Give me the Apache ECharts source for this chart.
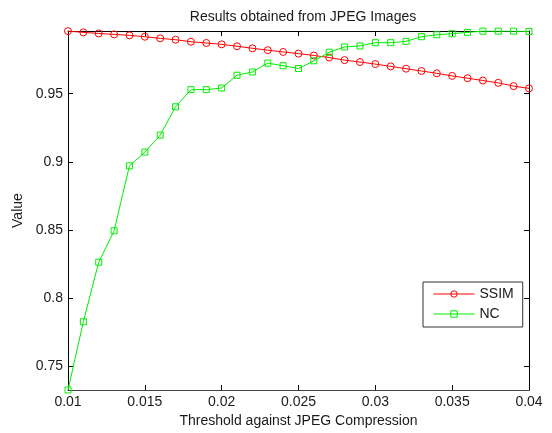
<!DOCTYPE html>
<html>
<head>
<meta charset="utf-8">
<script src="https://cdn.jsdelivr.net/npm/echarts@6/dist/echarts.min.js"></script>
<style>html,body{margin:0;padding:0;background:#fff}#c{width:552px;height:433px}</style>
</head>
<body>
<div id="c"></div>
<script>
const thresholds = [0.010,0.011,0.012,0.013,0.014,0.015,0.016,0.017,0.018,0.019,0.020,0.021,0.022,0.023,0.024,0.025,0.026,0.027,0.028,0.029,0.030,0.031,0.032,0.033,0.034,0.035,0.036,0.037,0.038,0.039,0.040];
const ssim = [0.9960,0.9951,0.9943,0.9936,0.9929,0.9919,0.9907,0.9897,0.9882,0.9873,0.9863,0.9849,0.9834,0.9820,0.9807,0.9795,0.9781,0.9766,0.9747,0.9733,0.9718,0.9701,0.9684,0.9667,0.9650,0.9631,0.9614,0.9597,0.9580,0.9556,0.9539];
const nc = [0.7323,0.7824,0.8262,0.8493,0.8970,0.9071,0.9196,0.9404,0.9530,0.9530,0.9542,0.9636,0.9660,0.9725,0.9706,0.9685,0.9742,0.9805,0.9844,0.9851,0.9875,0.9875,0.9885,0.9919,0.9933,0.9941,0.9951,0.9960,0.9960,0.9960,0.9958];
const xTicks = [0.01,0.015,0.02,0.025,0.03,0.035,0.04];
const yTicks = [0.75,0.8,0.85,0.9,0.95];
const yMin = 0.7322, yMax = 0.9961;

const font = 'Liberation Sans, Arial, sans-serif';
const chart = echarts.init(document.getElementById('c'), null, {renderer:'canvas'});
const axisLine = {show:true, lineStyle:{color:'#000', width:1}};
chart.setOption({
  animation:false,
  backgroundColor:'#fff',
  title:{text:'Results obtained from JPEG Images', left:298, textAlign:'center', top:5,
    textStyle:{fontFamily:font, fontSize:14, fontWeight:'normal', color:'#1a1a1a'}},
  grid:{left:68, right:23, top:31, bottom:38, containLabel:false},
  legend:{orient:'vertical', left:423, top:282, itemWidth:41, itemHeight:8, itemGap:4,
    padding:[4,9,5,10], borderColor:'#333', borderWidth:1, backgroundColor:'#fff',
    lineStyle:{width:1}, itemStyle:{borderWidth:1},
    textStyle:{fontFamily:font, fontSize:14, color:'#1a1a1a', lineHeight:16},
    data:['SSIM','NC']},
  xAxis:[{type:'value', min:0.01, max:0.04, position:'bottom',
      name:'Threshold against JPEG Compression', nameLocation:'middle', nameGap:20,
      nameTextStyle:{fontFamily:font, fontSize:14, color:'#1a1a1a'},
      axisLine:{show:true, lineStyle:{color:'#444', width:1}},
      axisTick:{show:true, inside:true, length:5, customValues:xTicks, lineStyle:{color:'#000'}},
      axisLabel:{show:true, customValues:xTicks, margin:5, fontFamily:font, fontSize:14, color:'#1a1a1a',
        formatter:v=>String(+v.toFixed(3))},
      splitLine:{show:false}},
    {type:'value', min:0.01, max:0.04, position:'top',
      axisLine:axisLine,
      axisTick:{show:true, inside:true, length:5, customValues:xTicks, lineStyle:{color:'#000'}},
      axisLabel:{show:false}, splitLine:{show:false}}],
  yAxis:[{type:'value', min:yMin, max:yMax, position:'left',
      name:'Value', nameLocation:'middle', nameGap:39,
      nameTextStyle:{fontFamily:font, fontSize:14, color:'#1a1a1a'},
      axisLine:axisLine,
      axisTick:{show:true, inside:true, length:5, customValues:yTicks, lineStyle:{color:'#000'}},
      axisLabel:{show:true, customValues:yTicks, margin:5, fontFamily:font, fontSize:14, color:'#1a1a1a',
        formatter:v=>String(+v.toFixed(2))},
      splitLine:{show:false}},
    {type:'value', min:yMin, max:yMax, position:'right',
      axisLine:axisLine,
      axisTick:{show:true, inside:true, length:5, customValues:yTicks, lineStyle:{color:'#000'}},
      axisLabel:{show:false}, splitLine:{show:false}}],
  series:[
    {name:'SSIM', type:'line', xAxisIndex:0, yAxisIndex:0,
      data:thresholds.map((x,i)=>[x, ssim[i]]),
      symbol:'circle', symbolSize:7, showAllSymbol:true,
      lineStyle:{color:'#ff0000', width:1},
      itemStyle:{color:'rgba(255,255,255,0)', borderColor:'#ff0000', borderWidth:1},
      emphasis:{disabled:true}},
    {name:'NC', type:'line', xAxisIndex:0, yAxisIndex:0,
      data:thresholds.map((x,i)=>[x, nc[i]]),
      symbol:'rect', symbolSize:6, showAllSymbol:true,
      lineStyle:{color:'#00ee00', width:1},
      itemStyle:{color:'rgba(255,255,255,0)', borderColor:'#00ee00', borderWidth:1},
      emphasis:{disabled:true}}
  ]
});
</script>
</body>
</html>
